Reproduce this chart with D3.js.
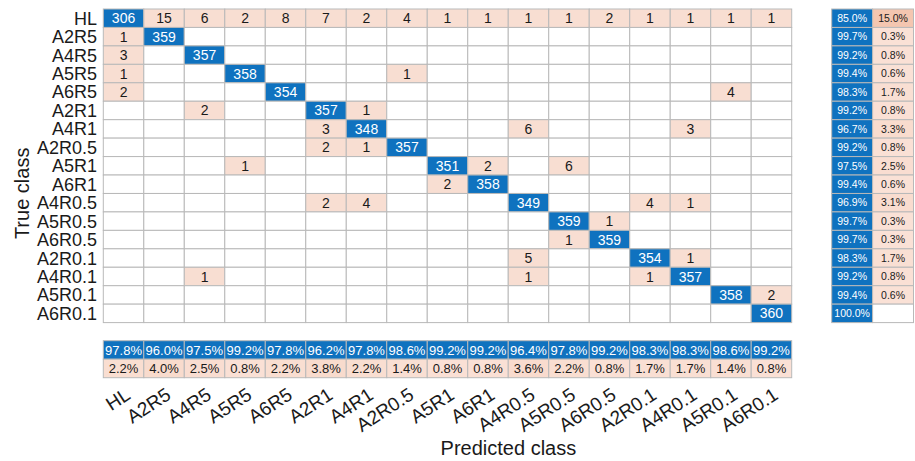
<!DOCTYPE html>
<html>
<head>
<meta charset="utf-8">
<script src="https://cdn.jsdelivr.net/npm/d3@7"></script>
<style>
  html, body { margin: 0; padding: 0; background: #fff; }
  svg { display: block; font-family: "Liberation Sans", Arial, sans-serif; }
</style>
</head>
<body>
<svg id="chart" width="915" height="461"></svg>
<script>
// Class names (rows = true class, columns = predicted class)
const classes = ["HL", "A2R5", "A4R5", "A5R5", "A6R5", "A2R1", "A4R1", "A2R0.5", "A5R1",
  "A6R1", "A4R0.5", "A5R0.5", "A6R0.5", "A2R0.1", "A4R0.1", "A5R0.1", "A6R0.1"];

// Confusion counts, one array per true class
const rowHL     = [306, 15, 6, 2, 8, 7, 2, 4, 1, 1, 1, 1, 2, 1, 1, 1, 1];
const rowA2R5   = [1, 359, 0, 0, 0, 0, 0, 0, 0, 0, 0, 0, 0, 0, 0, 0, 0];
const rowA4R5   = [3, 0, 357, 0, 0, 0, 0, 0, 0, 0, 0, 0, 0, 0, 0, 0, 0];
const rowA5R5   = [1, 0, 0, 358, 0, 0, 0, 1, 0, 0, 0, 0, 0, 0, 0, 0, 0];
const rowA6R5   = [2, 0, 0, 0, 354, 0, 0, 0, 0, 0, 0, 0, 0, 0, 0, 4, 0];
const rowA2R1   = [0, 0, 2, 0, 0, 357, 1, 0, 0, 0, 0, 0, 0, 0, 0, 0, 0];
const rowA4R1   = [0, 0, 0, 0, 0, 3, 348, 0, 0, 0, 6, 0, 0, 0, 3, 0, 0];
const rowA2R05  = [0, 0, 0, 0, 0, 2, 1, 357, 0, 0, 0, 0, 0, 0, 0, 0, 0];
const rowA5R1   = [0, 0, 0, 1, 0, 0, 0, 0, 351, 2, 0, 6, 0, 0, 0, 0, 0];
const rowA6R1   = [0, 0, 0, 0, 0, 0, 0, 0, 2, 358, 0, 0, 0, 0, 0, 0, 0];
const rowA4R05  = [0, 0, 0, 0, 0, 2, 4, 0, 0, 0, 349, 0, 0, 4, 1, 0, 0];
const rowA5R05  = [0, 0, 0, 0, 0, 0, 0, 0, 0, 0, 0, 359, 1, 0, 0, 0, 0];
const rowA6R05  = [0, 0, 0, 0, 0, 0, 0, 0, 0, 0, 0, 1, 359, 0, 0, 0, 0];
const rowA2R01  = [0, 0, 0, 0, 0, 0, 0, 0, 0, 0, 5, 0, 0, 354, 1, 0, 0];
const rowA4R01  = [0, 0, 1, 0, 0, 0, 0, 0, 0, 0, 1, 0, 0, 1, 357, 0, 0];
const rowA5R01  = [0, 0, 0, 0, 0, 0, 0, 0, 0, 0, 0, 0, 0, 0, 0, 358, 2];
const rowA6R01  = [0, 0, 0, 0, 0, 0, 0, 0, 0, 0, 0, 0, 0, 0, 0, 0, 360];

const matrix = [rowHL, rowA2R5, rowA4R5, rowA5R5, rowA6R5, rowA2R1, rowA4R1, rowA2R05,
  rowA5R1, rowA6R1, rowA4R05, rowA5R05, rowA6R05, rowA2R01, rowA4R01, rowA5R01, rowA6R01];

const n = classes.length;

// Row (true-class) and column (predicted-class) summaries
const rowTotals = matrix.map(r => d3.sum(r));
const colTotals = classes.map((_, j) => d3.sum(matrix, r => r[j]));
const rowCorrect = matrix.map((r, i) => r[i] / rowTotals[i] * 100);
const colCorrect = matrix.map((r, j) => matrix[j][j] / colTotals[j] * 100);

const svg = d3.select("#chart");

const BLUE = "#0f72bf";
const PINK = "#f8ded2";
const GRID = "#b9b9b9";
const TEXT = "#1a1a1a";

// Scales
const x = d3.scaleBand().domain(d3.range(n)).range([103.3, 791.7]).padding(0);
const y = d3.scaleBand().domain(d3.range(n)).range([9, 322.6]).padding(0);
const xs = d3.scaleBand().domain([0, 1]).range([831.7, 913.5]).padding(0);
const ys = d3.scaleBand().domain([0, 1]).range([340.7, 377.7]).padding(0);

const cells = [];
matrix.forEach((r, i) => r.forEach((v, j) => cells.push({ i, j, v })));

// Main matrix
const gm = svg.append("g");
gm.selectAll("rect").data(cells).join("rect")
  .attr("x", d => x(d.j)).attr("y", d => y(d.i))
  .attr("width", x.bandwidth()).attr("height", y.bandwidth())
  .attr("fill", d => d.v === 0 ? "#fff" : (d.i === d.j ? BLUE : PINK))
  .attr("stroke", GRID).attr("stroke-width", 1);

gm.selectAll("text").data(cells.filter(d => d.v > 0)).join("text")
  .attr("x", d => x(d.j) + x.bandwidth() / 2)
  .attr("y", d => y(d.i) + y.bandwidth() / 2)
  .attr("dy", "0.36em")
  .attr("text-anchor", "middle")
  .attr("font-size", 14)
  .attr("fill", d => d.i === d.j ? "#fff" : TEXT)
  .text(d => d.v);

// Error-share shading for summary cells
const maxErr = Math.max(d3.max(rowCorrect, v => 100 - v), d3.max(colCorrect, v => 100 - v));
const errColor = d3.scaleLinear().domain([0, maxErr]).range(["#fae2d7", "#f4c6b0"]);

// Row summary (right)
const rowSum = [];
rowCorrect.forEach((p, i) => {
  rowSum.push({ i, k: 0, p });
  rowSum.push({ i, k: 1, p: 100 - p });
});
const gr = svg.append("g");
gr.selectAll("rect").data(rowSum).join("rect")
  .attr("x", d => xs(d.k)).attr("y", d => y(d.i))
  .attr("width", xs.bandwidth()).attr("height", y.bandwidth())
  .attr("fill", d => d.k === 0 ? BLUE : (d.p < 0.05 ? "#fff" : errColor(d.p)))
  .attr("stroke", GRID).attr("stroke-width", 1);
gr.selectAll("text").data(rowSum.filter(d => d.p >= 0.05)).join("text")
  .attr("x", d => xs(d.k) + xs.bandwidth() / 2)
  .attr("y", d => y(d.i) + y.bandwidth() / 2)
  .attr("dy", "0.36em")
  .attr("text-anchor", "middle")
  .attr("font-size", 10.5)
  .attr("fill", d => d.k === 0 ? "#fff" : TEXT)
  .text(d => d.p.toFixed(1) + "%");

// Column summary (bottom)
const colSum = [];
colCorrect.forEach((p, j) => {
  colSum.push({ j, k: 0, p });
  colSum.push({ j, k: 1, p: 100 - p });
});
const gc = svg.append("g");
gc.selectAll("rect").data(colSum).join("rect")
  .attr("x", d => x(d.j)).attr("y", d => ys(d.k))
  .attr("width", x.bandwidth()).attr("height", ys.bandwidth())
  .attr("fill", d => d.k === 0 ? BLUE : (d.p < 0.05 ? "#fff" : errColor(d.p)))
  .attr("stroke", GRID).attr("stroke-width", 1);
gc.selectAll("text").data(colSum.filter(d => d.p >= 0.05)).join("text")
  .attr("x", d => x(d.j) + x.bandwidth() / 2)
  .attr("y", d => ys(d.k) + ys.bandwidth() / 2)
  .attr("dy", "0.36em")
  .attr("text-anchor", "middle")
  .attr("font-size", 13)
  .attr("fill", d => d.k === 0 ? "#fff" : TEXT)
  .text(d => d.p.toFixed(1) + "%");

// Row labels (true class)
svg.append("g").selectAll("text").data(classes).join("text")
  .attr("x", 97)
  .attr("y", (d, i) => y(i) + y.bandwidth() / 2)
  .attr("dy", "0.36em")
  .attr("text-anchor", "end")
  .attr("font-size", 18)
  .attr("fill", TEXT)
  .text(d => d);

// Column labels (predicted class), rotated
svg.append("g").selectAll("text").data(classes).join("text")
  .attr("text-anchor", "end")
  .attr("font-size", 19)
  .attr("fill", TEXT)
  .attr("transform", (d, j) => `translate(${x(j) + x.bandwidth() / 2 + 8},${398}) rotate(-33)`)
  .text(d => d);

// Axis titles, centred on the matrix plus its summary strips
svg.append("text")
  .attr("transform", `translate(29,${(9 + 377.7) / 2}) rotate(-90)`)
  .attr("text-anchor", "middle")
  .attr("font-size", 20)
  .attr("fill", TEXT)
  .text("True class");

svg.append("text")
  .attr("x", (103.3 + 913.5) / 2).attr("y", 455)
  .attr("text-anchor", "middle")
  .attr("font-size", 20)
  .attr("fill", TEXT)
  .text("Predicted class");
</script>
</body>
</html>
